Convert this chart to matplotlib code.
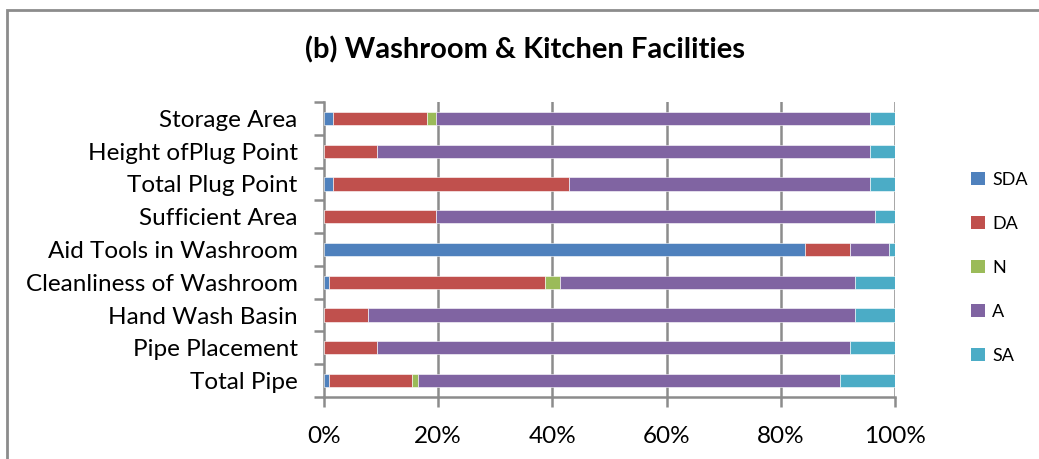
import numpy as np
import matplotlib
matplotlib.use("Agg")
import matplotlib.pyplot as plt
from matplotlib.patches import Rectangle, Patch

plt.rcParams['font.family'] = ['Lato', 'DejaVu Sans']

# categories, bottom to top
categories = ["Total Pipe", "Pipe Placement", "Hand Wash Basin",
              "Cleanliness of Washroom", "Aid Tools in Washroom",
              "Sufficient Area", "Total Plug Point", "Height ofPlug Point",
              "Storage Area"]

# percent shares per response level
sda = [0.8, 0.0, 0.0, 0.8, 84.3, 0.0, 1.6, 0.0, 1.6]
da = [14.6, 9.3, 7.7, 37.9, 7.8, 19.7, 41.3, 9.3, 16.4]
n = [1.0, 0.0, 0.0, 2.6, 0.0, 0.0, 0.0, 0.0, 1.7]
a = [74.0, 82.8, 85.3, 51.7, 6.9, 76.8, 52.7, 86.3, 75.9]
sa = [9.6, 7.9, 7.0, 7.0, 1.0, 3.5, 4.4, 4.4, 4.4]

series = [("SDA", sda, "#4F81BD"), ("DA", da, "#C0504D"), ("N", n, "#9BBB59"),
          ("A", a, "#8064A2"), ("SA", sa, "#4BACC6")]

fig = plt.figure(figsize=(10.39, 4.59), dpi=100)
ax = fig.add_axes([324 / 1039, 1 - 397 / 459, 571 / 1039, 295 / 459])

y = np.arange(len(categories))
left = np.zeros(len(categories))
for name, vals, col in series:
    vals = np.array(vals)
    ax.barh(y, vals, left=left, height=0.4, color=col, label=name,
            edgecolor='white', linewidth=0.4, zorder=3)
    left += vals

ax.set_xlim(0, 100)
ax.set_ylim(-0.5, len(categories) - 0.5)

grid = "#8c8c8c"
for gx in [20, 40, 60, 80, 100]:
    ax.axvline(gx, color=grid, lw=1.8, zorder=1)

for side in ["top", "right"]:
    ax.spines[side].set_visible(False)
ax.spines["left"].set_color(grid)
ax.spines["bottom"].set_color(grid)
ax.spines["left"].set_linewidth(1.8)
ax.spines["bottom"].set_linewidth(1.8)

ax.set_xticks([0, 20, 40, 60, 80, 100])
ax.set_xticklabels(["0%", "20%", "40%", "60%", "80%", "100%"])
ax.set_yticks(y)
ax.set_yticklabels(categories)
ax.set_yticks(np.arange(-0.5, len(categories)), minor=True)
ax.tick_params(axis='y', which='major', length=0, pad=19, labelsize=17.5)
ax.tick_params(axis='y', which='minor', length=7, width=1.8, color=grid)
ax.tick_params(axis='x', length=7, width=1.8, color=grid, pad=14, labelsize=17.5)

fig.text(525 / 1039, 1 - 50 / 459, "(b) Washroom & Kitchen Facilities",
         ha='center', va='center', fontsize=21, fontweight='bold')

handles = [Patch(facecolor=c, edgecolor='none') for _, _, c in series]
fig.legend(handles, [s[0] for s in series], loc='center left',
           bbox_to_anchor=(955 / 1039, 1 - 268 / 459), frameon=False,
           fontsize=13, handlelength=0.75, handleheight=0.75,
           handletextpad=0.4, labelspacing=1.55)

fig.add_artist(Rectangle((7 / 1039, -0.1), 1.2, 1.1 - 10 / 459,
                         transform=fig.transFigure, fill=False,
                         edgecolor="#8c8c8c", lw=2))

fig.savefig("out.png", dpi=100)
